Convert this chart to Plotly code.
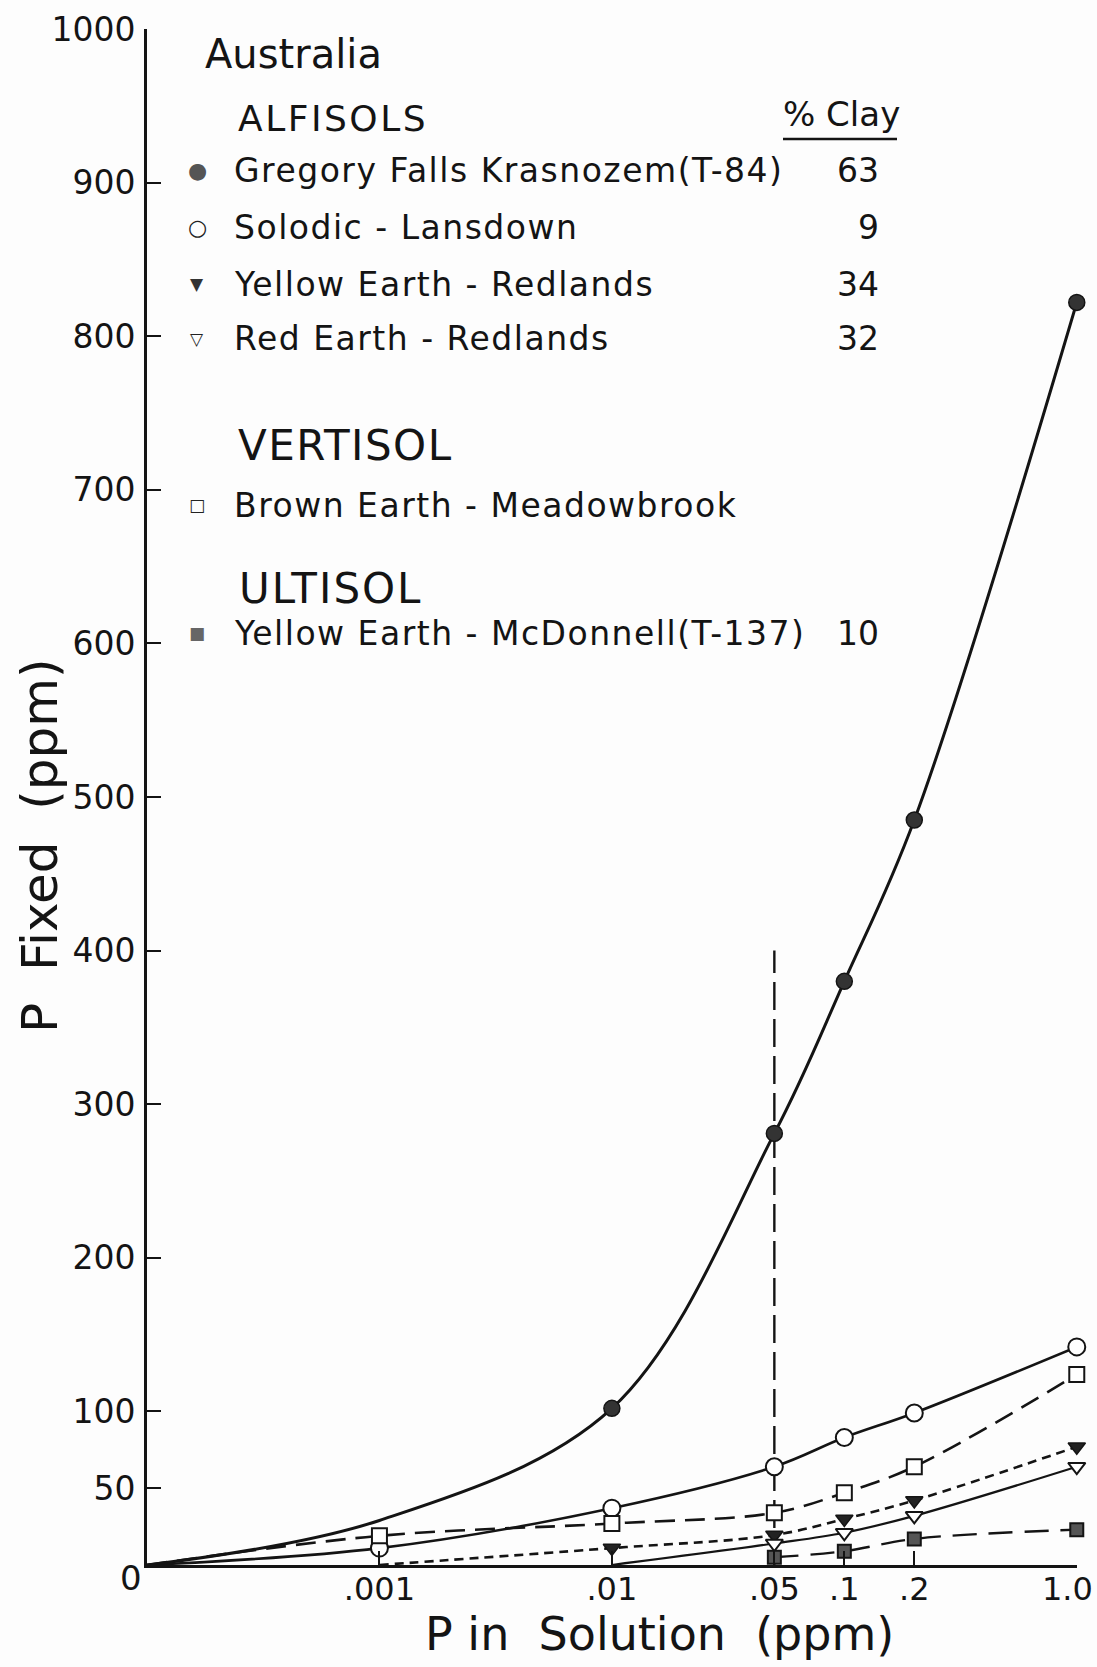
import plotly.graph_objects as go

# ---------------- data ----------------
ORIGIN_X = 1e-4  # the chart's "0" on the log x axis
x_tickvals = [0.001, 0.01, 0.05, 0.1, 0.2, 1.0]
x_ticktext = [".001", ".01", ".05", ".1", ".2", "1.0"]
y_tickvals = [50, 100, 200, 300, 400, 500, 600, 700, 800, 900, 1000]
y_ticktext = ["50", "100", "200", "300", "400", "500", "600", "700", "800", "900", "1000"]

gregory_x = [0.01, 0.05, 0.1, 0.2, 1.0]
gregory_y = [102, 281, 380, 485, 822]
# extra point read along the drawn curve between the origin and .01
gregory_curve_x = [ORIGIN_X, 0.001] + gregory_x
gregory_curve_y = [0, 29] + gregory_y

solodic_x = [0.001, 0.01, 0.05, 0.1, 0.2, 1.0]
solodic_y = [11, 37, 64, 83, 99, 142]

brown_x = [0.001, 0.01, 0.05, 0.1, 0.2, 1.0]
brown_y = [19, 27, 34, 47, 64, 124]

yellow_red_x = [0.01, 0.05, 0.1, 0.2, 1.0]
yellow_red_y = [11, 19.5, 30, 42, 77]

red_x = [0.05, 0.1, 0.2, 1.0]
red_y = [14, 21, 32, 64]

mcd_x = [0.05, 0.1, 0.2, 1.0]
mcd_y = [5, 9, 17, 23]

ref_x = [0.05, 0.05]
ref_y = [0, 400]

legend_names = [
    "Gregory Falls Krasnozem(T-84)",
    "Solodic - Lansdown",
    "Yellow Earth - Redlands",
    "Red Earth - Redlands",
    "Brown Earth - Meadowbrook",
    "Yellow Earth - McDonnell(T-137)",
]
legend_clay = ["63", "9", "34", "32", "", "10"]
legend_symbols = ["●", "○", "▼", "▽", "□", "■"]
legend_sym_colors = ["#555555", "#222222", "#333333", "#222222", "#222222", "#666666"]
legend_sym_sizes = [22, 22, 17, 17, 17, 17]

# ---------------- geometry ----------------
W, H = 1097, 1667
L, R, T, B = 147, 1077, 29, 1565
FONT = "DejaVu Sans"
INK = "#141414"


def px(x):
    return (x - L) / (R - L)


def py(y):
    return (B - y) / (B - T)


fig = go.Figure()


def curve(x, y, dash="solid", width=2.6):
    fig.add_trace(go.Scatter(
        x=x, y=y, mode="lines",
        line=dict(color=INK, width=width, dash=dash, shape="spline", smoothing=1.0),
        cliponaxis=False, showlegend=False, hoverinfo="skip"))


def marks(x, y, symbol, size, fill, lw=2):
    fig.add_trace(go.Scatter(
        x=x, y=y, mode="markers",
        marker=dict(symbol=symbol, size=size, color=fill,
                    line=dict(color=INK, width=lw)),
        cliponaxis=False, showlegend=False))


# reference dashed line at .05
fig.add_trace(go.Scatter(x=ref_x, y=ref_y, mode="lines",
                         line=dict(color=INK, width=2.4, dash="28px,9px"),
                         showlegend=False, hoverinfo="skip"))

curve(gregory_curve_x, gregory_curve_y, "solid", 3)
curve([ORIGIN_X] + solodic_x, [0] + solodic_y, "solid", 2.6)
curve([ORIGIN_X] + brown_x, [0] + brown_y, "20px,10px", 2.6)
curve([0.001] + yellow_red_x, [0] + yellow_red_y, "9px,6px", 2.6)
curve([0.01] + red_x, [0] + red_y, "solid", 2.2)
curve(mcd_x, mcd_y, "24px,12px", 2.4)

marks(gregory_x, gregory_y, "circle", 16, "#333333", 1.5)
marks(solodic_x, solodic_y, "circle", 17, "white", 2)
marks(brown_x, brown_y, "square", 15, "white", 2)
marks(yellow_red_x, yellow_red_y, "triangle-down", 15, "#222222", 1.5)
marks(red_x, red_y, "triangle-down", 15, "white", 2)
marks(mcd_x, mcd_y, "square", 13, "#555555", 2)

# ---------------- annotations ----------------
ann = []


def text(x, y, s, size, anchor="left", angle=0, spacing=0):
    if spacing:
        s = f'<span style="letter-spacing:{spacing}px">{s}</span>'
    ann.append(dict(x=px(x), y=py(y), xref="paper", yref="paper", text=s,
                    showarrow=False, xanchor=anchor, yanchor="middle",
                    textangle=angle, font=dict(family=FONT, size=size, color=INK)))


text(203, 54, "Australia", 40)
text(236, 118, "ALFISOLS", 36, spacing=2.5)
text(781, 114, "% Clay", 34)
rows_y = [170, 228, 284, 339, 505, 633]
for i, name in enumerate(legend_names):
    text(232, rows_y[i], name, 33, spacing=1.5)
    if legend_clay[i]:
        text(881, rows_y[i], legend_clay[i], 33, anchor="right")
    ann.append(dict(x=px(197), y=py(rows_y[i]), xref="paper", yref="paper",
                    text=legend_symbols[i], showarrow=False, xanchor="center",
                    yanchor="middle",
                    font=dict(family=FONT, size=legend_sym_sizes[i],
                              color=legend_sym_colors[i])))
text(236, 445, "VERTISOL", 42, spacing=1.5)
text(237, 588, "ULTISOL", 42, spacing=2)

# axis titles, the shared origin label and the last x tick label (kept inside the page)
text(40, 846, "P\u00a0\u00a0Fixed\u00a0\u00a0(ppm)", 50, anchor="center", angle=-90)
text(659, 1634, "P\u00a0in\u00a0\u00a0Solution\u00a0\u00a0(ppm)", 46, anchor="center")
text(131, 1578, "0", 34, anchor="center")
text(1095, 1589, x_ticktext[-1], 32, anchor="right")
axis_ticktext = x_ticktext[:-1] + [""]

shapes = [dict(type="line", xref="paper", yref="paper",
               x0=px(783), x1=px(897), y0=py(139), y1=py(139),
               line=dict(color=INK, width=2.5))]

fig.update_layout(
    width=W, height=H,
    margin=dict(l=L, r=W - R, t=T, b=H - B, pad=0, autoexpand=False),
    paper_bgcolor="#fdfdfd", plot_bgcolor="#fdfdfd",
    annotations=ann, shapes=shapes,
    showlegend=False,
    xaxis=dict(type="log", range=[-4, 0.001], showgrid=False, zeroline=False,
               automargin=False,
               showline=True, linecolor=INK, linewidth=2.6,
               ticks="inside", ticklen=14, tickwidth=2.4, tickcolor=INK,
               tickvals=x_tickvals, ticktext=axis_ticktext, ticklabelstandoff=-6,
               tickfont=dict(family=FONT, size=32, color=INK)),
    yaxis=dict(range=[0, 1000], showgrid=False, zeroline=False,
               automargin=False,
               showline=True, linecolor=INK, linewidth=2.6,
               ticks="inside", ticklen=14, tickwidth=2.4, tickcolor=INK,
               tickvals=y_tickvals, ticktext=y_ticktext, ticklabelstandoff=2,
               tickfont=dict(family=FONT, size=33, color=INK)),
)

fig.write_html("out.html")
